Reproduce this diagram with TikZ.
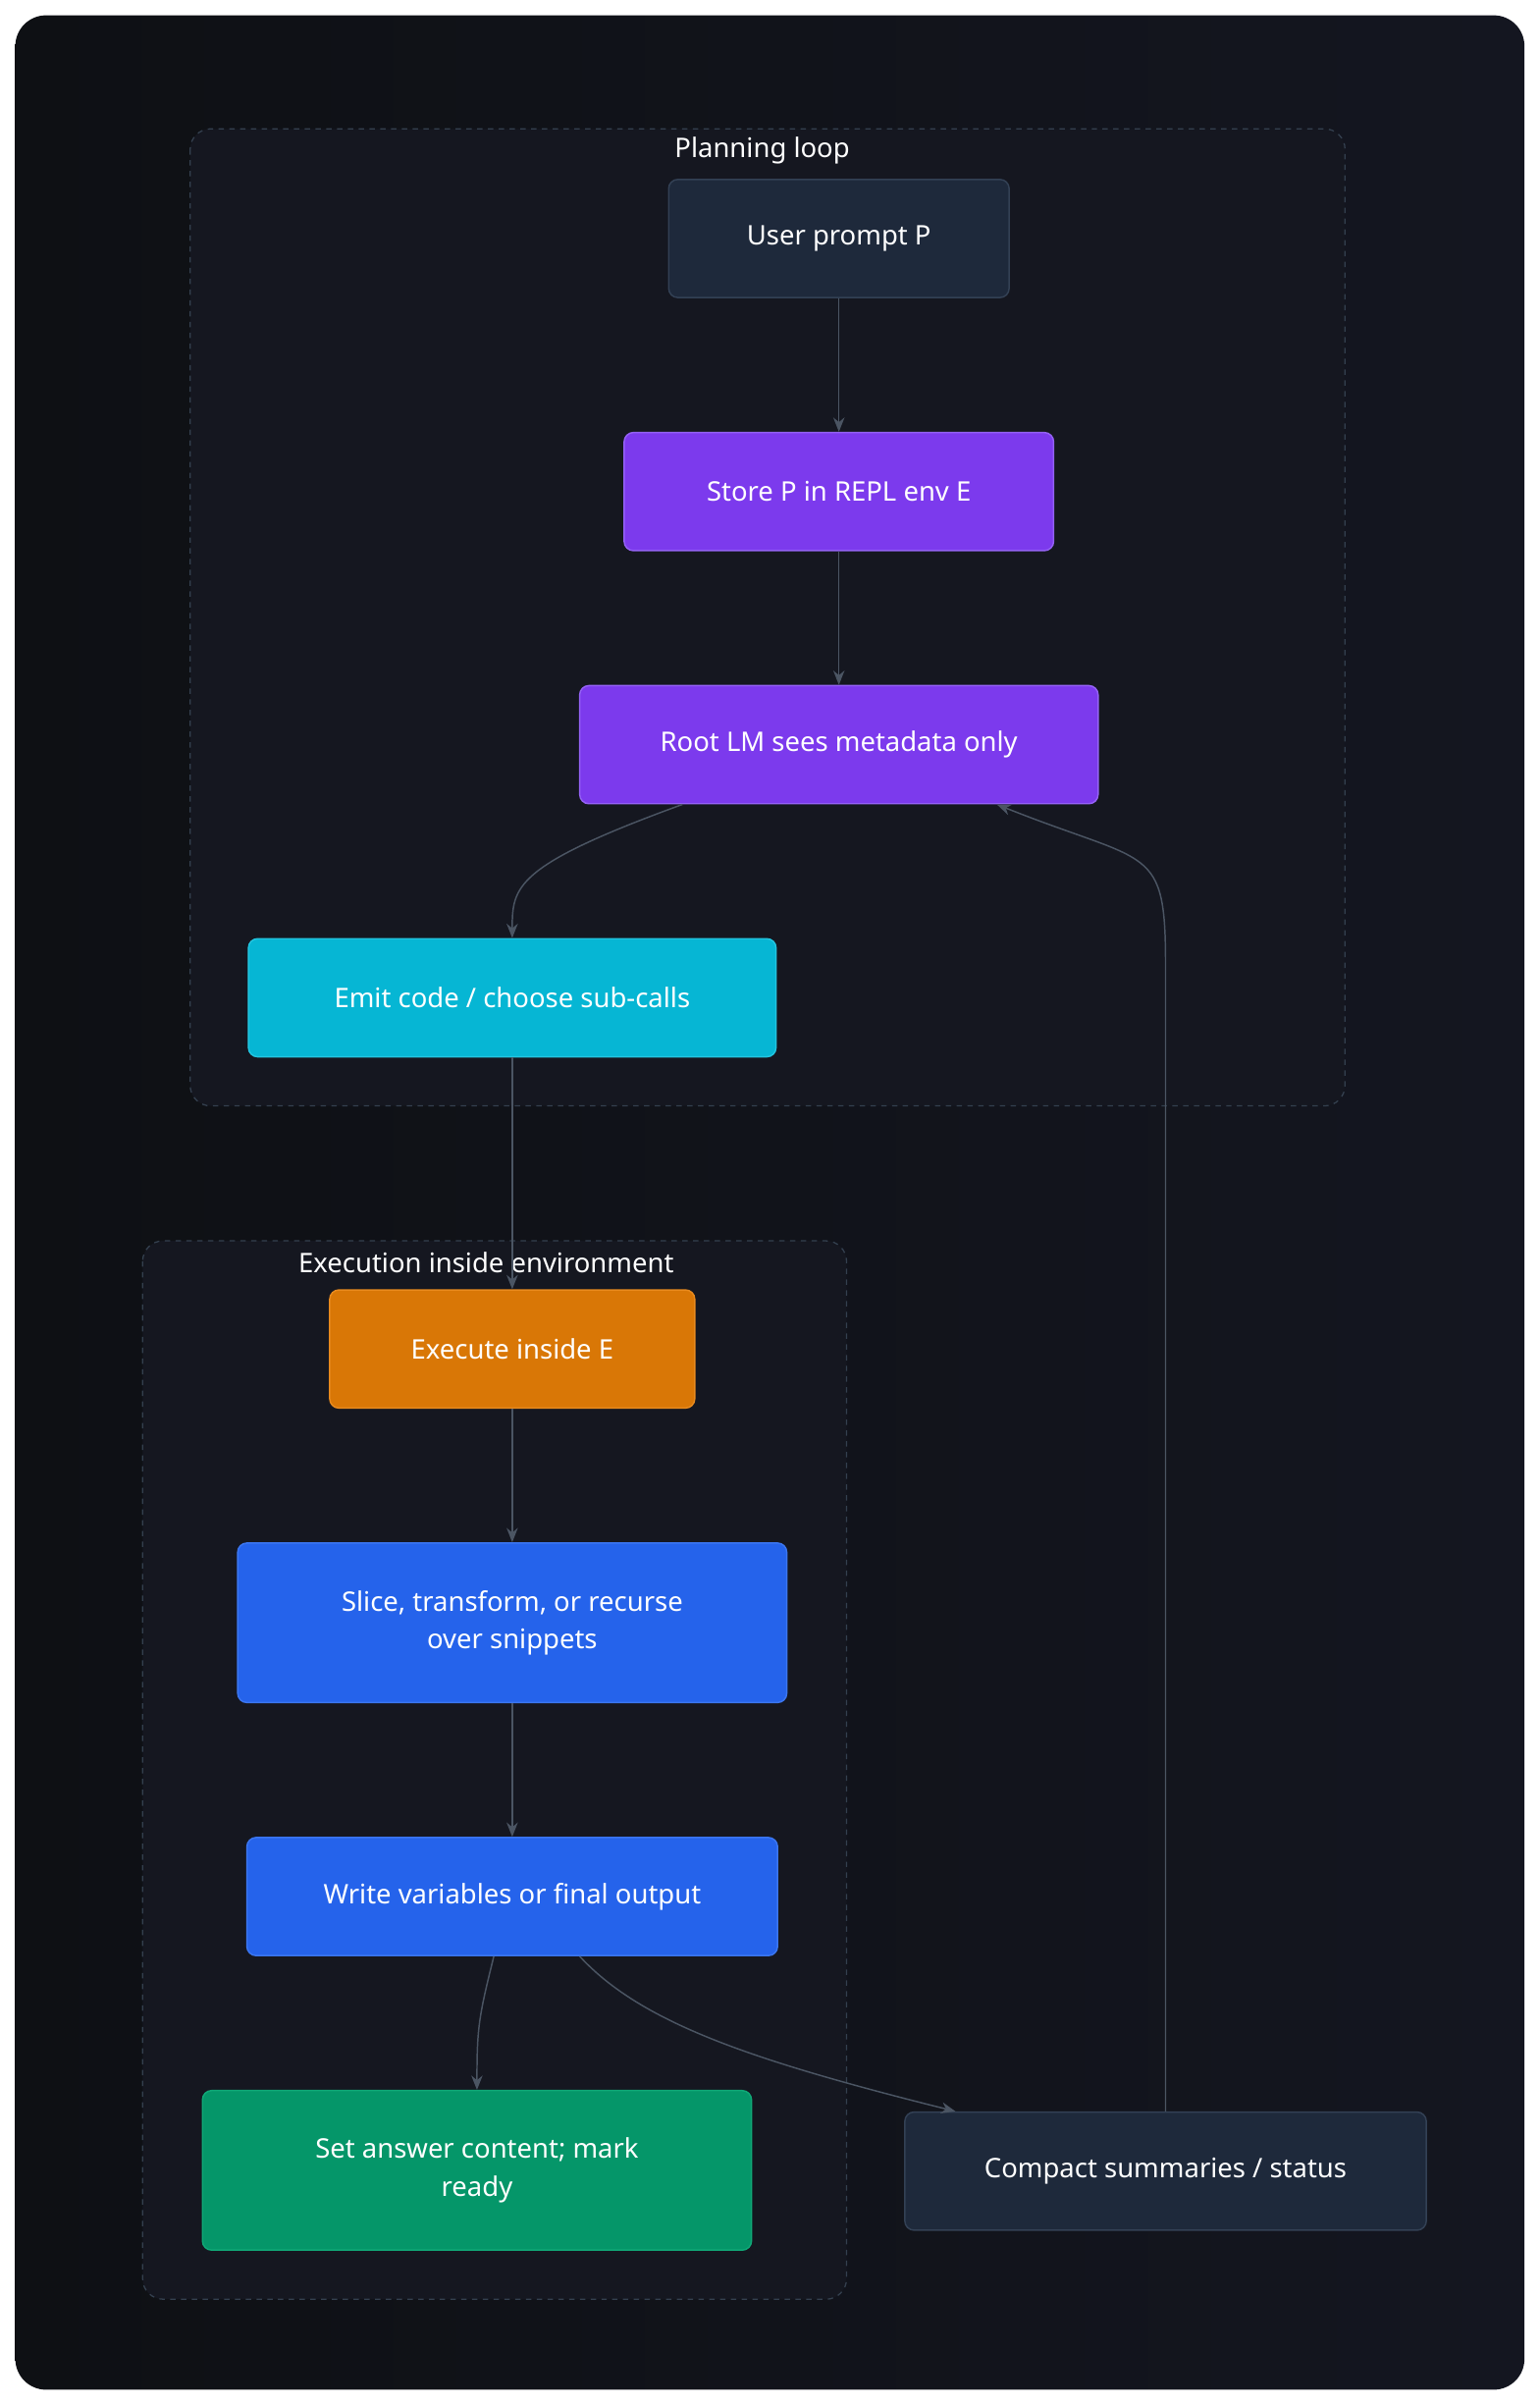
\documentclass[tikz,border=0pt]{standalone}
\usepackage{fontspec}
\setmainfont{Noto Sans}
\usetikzlibrary{arrows.meta}
\definecolor{bgA}{HTML}{0E1014}
\definecolor{bgB}{HTML}{141620}
\definecolor{clfill}{HTML}{151720}
\definecolor{clline}{HTML}{34404F}
\definecolor{slate}{HTML}{1E293B}
\definecolor{slateb}{HTML}{334155}
\definecolor{violet}{HTML}{7C3AED}
\definecolor{violetb}{HTML}{9461F5}
\definecolor{cyanf}{HTML}{06B6D4}
\definecolor{cyanb}{HTML}{22C5E0}
\definecolor{amberf}{HTML}{D97706}
\definecolor{amberb}{HTML}{E88A1E}
\definecolor{bluef}{HTML}{2563EB}
\definecolor{blueb}{HTML}{3B76F0}
\definecolor{greenf}{HTML}{059669}
\definecolor{greenb}{HTML}{10A877}
\definecolor{edgec}{HTML}{4B5563}
\tikzset{
 box/.style={rounded corners=0.18cm, draw, line width=0.8pt, text=white, align=center, font=\fontsize{15}{21}\selectfont, inner sep=0pt},
 cluster/.style={draw=clline, fill=clfill, dashed, rounded corners=0.4cm, line width=0.7pt},
 cltitle/.style={text=white, font=\fontsize{15}{18}\selectfont\bfseries},
 edge/.style={draw=edgec, line width=0.8pt, -{Stealth[length=0.28cm,width=0.22cm]}},
}
\begin{document}
\begin{tikzpicture}[x=0.03cm,y=-0.03cm]
\useasboundingbox (0,0) rectangle (1004,1568);
\fill[white] (0,0) rectangle (1004,1568);
\shade[left color=bgA, right color=bgB, rounded corners=0.6cm] (10,10) rectangle (994,1558);
\draw[cluster] (124,84) rectangle (877,721);
\node[cltitle] (t1) at (497,98) {Planning loop};
\draw[cluster] (93,809) rectangle (552,1499);
\node[cltitle] (t2) at (317,823) {Execution inside environment};

\node[box, fill=slate, draw=slateb, minimum width=6.66cm, minimum height=2.31cm] (U) at (547,155.5) {User prompt P};
\node[box, fill=violet, draw=violetb, minimum width=8.4cm, minimum height=2.31cm] (S) at (547,320.5) {Store P in REPL env E};
\node[box, fill=violet, draw=violetb, minimum width=10.14cm, minimum height=2.31cm] (R) at (547,485.5) {Root LM sees metadata only};
\node[box, fill=cyanf, draw=cyanb, minimum width=10.32cm, minimum height=2.31cm] (E) at (334,650.5) {Emit code / choose sub-calls};
\node[box, fill=amberf, draw=amberb, minimum width=7.14cm, minimum height=2.31cm] (X) at (334,879.5) {Execute inside E};
\node[box, fill=bluef, draw=blueb, minimum width=10.74cm, minimum height=3.12cm] (SL) at (334,1058) {Slice, transform, or recurse\\over snippets};
\node[box, fill=bluef, draw=blueb, minimum width=10.38cm, minimum height=2.31cm] (W) at (334,1236.5) {Write variables or final output};
\node[box, fill=greenf, draw=greenb, minimum width=10.74cm, minimum height=3.12cm] (A) at (311,1415) {Set answer content; mark\\ready};
\node[box, fill=slate, draw=slateb, minimum width=10.2cm, minimum height=2.31cm] (C) at (760,1415.5) {Compact summaries / status};

\draw[edge] (U) -- (S);
\draw[edge] (S) -- (R);
\draw[edge] ([xshift=-3.06cm]R.south) .. controls +(-3.3cm,-1.2cm) and +(0,1.0cm) .. (E.north);
\draw[edge] (E) -- (X);
\draw[edge] (X) -- (SL);
\draw[edge] (SL) -- (W);
\draw[edge] ([xshift=-0.36cm]W.south) .. controls +(-0.3cm,-1.2cm) and +(0,1.2cm) .. (A.north);
\draw[edge] ([xshift=1.32cm]W.south) .. controls +(1.2cm,-1.3cm) and +(-4cm,1.0cm) .. ([xshift=-4.11cm]C.north);
\draw[edge] (C.north) -- ++(0,-747) .. controls +(0,2.4cm) and +(3cm,-1.2cm) .. ([xshift=3.09cm]R.south);
\end{tikzpicture}
\end{document}
